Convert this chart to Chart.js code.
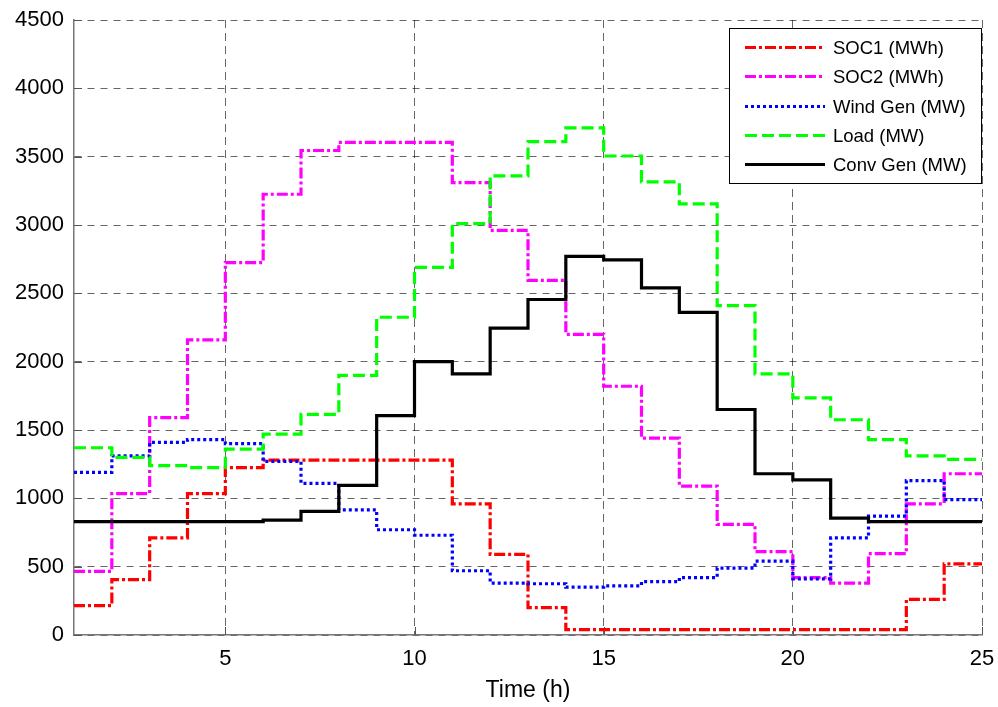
<!DOCTYPE html>
<html>
<head>
<meta charset="utf-8">
<title>SOC, wind, load and conventional generation</title>
<script src="https://cdn.jsdelivr.net/npm/chart.js@4/dist/chart.umd.min.js"></script>
<style>
  html, body { margin: 0; padding: 0; background: #fff; }
  #wrap { width: 998px; height: 707px; }
</style>
</head>
<body>
<div id="wrap"><canvas id="mycanvas" width="998" height="707"></canvas></div>
<script>
// hours 1..25 (stairs: value of hour h holds until h+1, last value repeated at 25)
var hours = [1,2,3,4,5,6,7,8,9,10,11,12,13,14,15,16,17,18,19,20,21,22,23,24,25];

var soc1 = [215,405,710,1035,1225,1280,1280,1280,1280,1280,960,590,200,40,40,40,40,40,40,40,40,40,260,520,520];
var soc2 = [465,1035,1590,2160,2725,3225,3545,3605,3605,3605,3310,2960,2595,2200,1820,1440,1090,810,610,420,380,595,960,1180,1180];
var windGen = [1190,1310,1410,1430,1400,1270,1110,915,770,730,470,380,375,350,360,390,420,490,540,410,710,870,1130,990,990];
var load = [1370,1300,1240,1225,1360,1470,1615,1900,2325,2690,3010,3360,3610,3710,3505,3315,3155,2410,1910,1735,1575,1430,1310,1285,1285];
var convGen = [830,830,830,830,830,840,905,1095,1605,2000,1910,2245,2455,2770,2745,2540,2360,1650,1180,1135,855,830,830,830,830];

var xTicks = [5, 10, 15, 20, 25];
var yMax = 4500, yStep = 500;

var FONT = "'Liberation Sans', Arial, Helvetica, sans-serif";

function pts(vals) {
  var out = [];
  for (var i in hours) out.push({x: hours[i], y: vals[i]});
  return out;
}

function series(label, vals, color, dash, order) {
  return {
    label: label,
    data: pts(vals),
    borderColor: color,
    backgroundColor: color,
    borderWidth: 3.2,
    borderDash: dash,
    borderCapStyle: 'butt',
    borderJoinStyle: 'miter',
    stepped: true,
    fill: false,
    pointRadius: 0,
    pointHoverRadius: 0,
    order: order
  };
}

// no label overhang padding, the layout padding sets the plot box
function noPad(scale) {
  scale.paddingTop = 0;
  scale.paddingBottom = 0;
  scale.paddingLeft = 0;
  scale.paddingRight = 0;
}

// small inward tick marks on the left and bottom axes
var innerTicks = {
  id: 'innerTicks',
  beforeDatasetsDraw: function(chart) {
    var ctx = chart.ctx, a = chart.chartArea;
    var xs = chart.scales.x, ys = chart.scales.y;
    ctx.save();
    ctx.setLineDash([]);
    ctx.strokeStyle = '#555';
    ctx.lineWidth = 1;
    ctx.beginPath();
    ys.ticks.forEach(function(t) {
      var y = Math.round(ys.getPixelForValue(t.value)) + 0.5;
      ctx.moveTo(a.left, y);
      ctx.lineTo(a.left + 8, y);
    });
    xs.ticks.forEach(function(t) {
      var x = Math.round(xs.getPixelForValue(t.value)) + 0.5;
      ctx.moveTo(x, a.bottom);
      ctx.lineTo(x, a.bottom - 8);
    });
    ctx.stroke();
    ctx.restore();
  }
};

// legend box drawn inside the plot, MATLAB style
var boxLegend = {
  id: 'boxLegend',
  afterDraw: function(chart) {
    var ctx = chart.ctx;
    var x0 = 729, y0 = 28, w = 252, h = 155;
    ctx.save();
    ctx.setLineDash([]);
    ctx.fillStyle = '#fff';
    ctx.fillRect(x0, y0, w, h);
    ctx.strokeStyle = '#000';
    ctx.lineWidth = 1;
    ctx.strokeRect(x0 + 0.5, y0 + 0.5, w, h);
    ctx.font = '18.5px ' + FONT;
    ctx.textBaseline = 'middle';
    ctx.textAlign = 'left';
    chart.data.datasets.forEach(function(ds, i) {
      var y = Math.round(y0 + 19 + i * 29.3) + 0.5;
      ctx.beginPath();
      ctx.setLineDash(ds.borderDash || []);
      ctx.lineWidth = ds.borderWidth;
      ctx.strokeStyle = ds.borderColor;
      ctx.moveTo(745, y);
      ctx.lineTo(825, y);
      ctx.stroke();
      ctx.setLineDash([]);
      ctx.fillStyle = '#000';
      ctx.fillText(ds.label, 833, y + 1);
    });
    ctx.restore();
  }
};

var ctx = document.getElementById('mycanvas');

var chart = new Chart(ctx, {
  type: 'line',
  data: {
    datasets: [
      series('SOC1 (MWh)', soc1, '#ff0000', [11, 3, 3, 3], 4),
      series('SOC2 (MWh)', soc2, '#ff00ff', [11, 3, 3, 3], 3),
      series('Wind Gen (MW)', windGen, '#0000ff', [3, 3], 2),
      series('Load (MW)', load, '#00ff00', [12, 5], 1),
      series('Conv Gen (MW)', convGen, '#000000', [], 0)
    ]
  },
  options: {
    responsive: false,
    animation: false,
    devicePixelRatio: 1,
    layout: { autoPadding: false, padding: { left: 0, right: 16, top: 20, bottom: 0 } },
    scales: {
      x: {
        type: 'linear',
        min: 1,
        max: 25,
        afterBuildTicks: function(scale) {
          scale.ticks = xTicks.map(function(v) { return {value: v}; });
        },
        afterFit: function(scale) { scale.height = 72; noPad(scale); },
        grid: {
          color: 'rgba(0,0,0,0.6)',
          lineWidth: 1,
          drawTicks: false
        },
        border: { display: true, color: '#777', width: 1.5, dash: [8, 5] },
        ticks: {
          color: '#000',
          font: { family: FONT, size: 22 },
          padding: 11,
          maxRotation: 0,
          autoSkip: false,
          callback: function(v) { return String(v); }
        },
        title: {
          display: true,
          text: 'Time (h)',
          color: '#000',
          font: { family: FONT, size: 23 },
          padding: { top: 0, bottom: 3 }
        }
      },
      y: {
        type: 'linear',
        min: 0,
        max: yMax,
        afterFit: function(scale) { scale.width = 74; noPad(scale); },
        grid: {
          color: 'rgba(0,0,0,0.6)',
          lineWidth: 1,
          drawTicks: false
        },
        border: { display: true, color: '#777', width: 1.5, dash: [7, 6] },
        ticks: {
          stepSize: yStep,
          color: '#000',
          font: { family: FONT, size: 22 },
          padding: 10,
          callback: function(v) { return String(v); }
        }
      }
    },
    plugins: {
      legend: { display: false },
      tooltip: { enabled: false }
    }
  },
  plugins: [innerTicks, boxLegend]
});
</script>
</body>
</html>
